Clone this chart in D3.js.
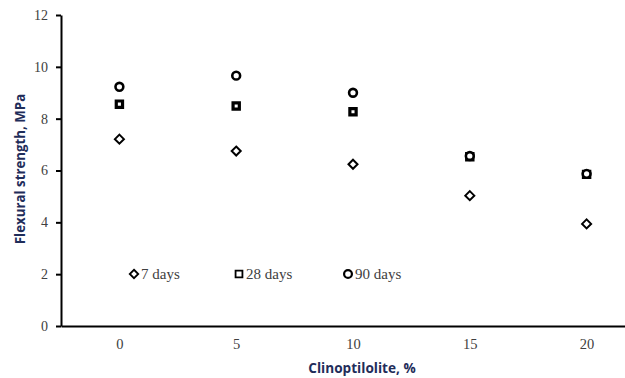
<!DOCTYPE html>
<html>
<head>
<meta charset="utf-8">
<script src="https://cdn.jsdelivr.net/npm/d3@7"></script>
<style>
  html, body { margin: 0; padding: 0; background: #fff; }
  svg { display: block; }
</style>
</head>
<body>
<svg id="chart" width="625" height="378"></svg>
<script>
// Clinoptilolite content (%) and flexural strength (MPa) by curing age
const categories = ["0", "5", "10", "15", "20"];
const days7  = [7.21, 6.75, 6.24, 5.03, 3.94];
const days28 = [8.56, 8.49, 8.27, 6.53, 5.85];
const days90 = [9.23, 9.66, 9.00, 6.56, 5.87];
const yTicks = [0, 2, 4, 6, 8, 10, 12];
const seriesNames = ["7 days", "28 days", "90 days"];

const svg = d3.select("#chart");
const plotLeft = 61, plotTop = 15, plotBottom = 326;
const step = 116.8;

const x = d3.scalePoint()
  .domain(categories)
  .range([plotLeft, plotLeft + step * categories.length])
  .padding(0.5);
const y = d3.scaleLinear().domain([0, 12]).range([plotBottom, plotTop]);

const serif = "'Liberation Serif', 'Times New Roman', serif";
const sans = "'Open Sans', 'Liberation Sans', Arial, sans-serif";

// Y axis
const yAxis = svg.append("g")
  .attr("transform", `translate(${plotLeft},0)`)
  .call(d3.axisLeft(y).tickValues(yTicks).tickSize(5).tickSizeOuter(0).tickPadding(8));
yAxis.select(".domain").attr("stroke", "#000").attr("stroke-width", 2);
yAxis.selectAll(".tick line").attr("stroke", "#000").attr("stroke-width", 2);
yAxis.selectAll(".tick text")
  .attr("font-family", serif).attr("font-size", 14).attr("fill", "#404040");

// X axis
const xAxis = svg.append("g")
  .attr("transform", `translate(0,${plotBottom})`)
  .call(d3.axisBottom(x).tickSize(0).tickSizeOuter(0).tickPadding(13));
xAxis.select(".domain").attr("stroke", "#000").attr("stroke-width", 2);
xAxis.selectAll(".tick text")
  .attr("font-family", serif).attr("font-size", 14.5).attr("fill", "#404040");

// Axis titles
svg.append("text")
  .attr("x", 362).attr("y", 373)
  .attr("text-anchor", "middle")
  .attr("font-family", sans).attr("font-weight", "bold").attr("font-size", 13.6)
  .attr("fill", "#1F2D5A")
  .text("Clinoptilolite, %");

svg.append("text")
  .attr("transform", "translate(25,169) rotate(-90)")
  .attr("text-anchor", "middle")
  .attr("font-family", sans).attr("font-weight", "bold").attr("font-size", 13.3)
  .attr("fill", "#1F2D5A")
  .text("Flexural strength, MPa");

// Marker shapes
const shapes = [
  d3.symbol().type(d3.symbolDiamond2).size(52),
  d3.symbol().type(d3.symbolSquare2).size(50),
  d3.symbol().type(d3.symbolCircle).size(48)
];
const widths = [2, 3.2, 2.6];
const legendWidths = [1.8, 1.8, 2.2];
const allSeries = [days7, days28, days90];

allSeries.forEach((vals, si) => {
  svg.append("g").selectAll("path")
    .data(vals)
    .join("path")
    .attr("d", shapes[si])
    .attr("transform", (d, i) => `translate(${x(categories[i])},${y(d)})`)
    .attr("fill", "#fff")
    .attr("stroke", "#000")
    .attr("stroke-width", widths[si]);
});

// Legend
const legendX = [134, 239, 348];
const legendY = 274;
const legendShapes = [
  d3.symbol().type(d3.symbolDiamond2).size(46),
  d3.symbol().type(d3.symbolSquare2).size(60),
  d3.symbol().type(d3.symbolCircle).size(48)
];
const legend = svg.append("g");
seriesNames.forEach((name, si) => {
  legend.append("path")
    .attr("d", legendShapes[si])
    .attr("transform", `translate(${legendX[si]},${legendY})`)
    .attr("fill", "#fff").attr("stroke", "#000").attr("stroke-width", legendWidths[si]);
  legend.append("text")
    .attr("x", legendX[si] + 7).attr("y", legendY + 5)
    .attr("font-family", serif).attr("font-size", 15).attr("fill", "#404040")
    .text(name);
});
</script>
</body>
</html>
